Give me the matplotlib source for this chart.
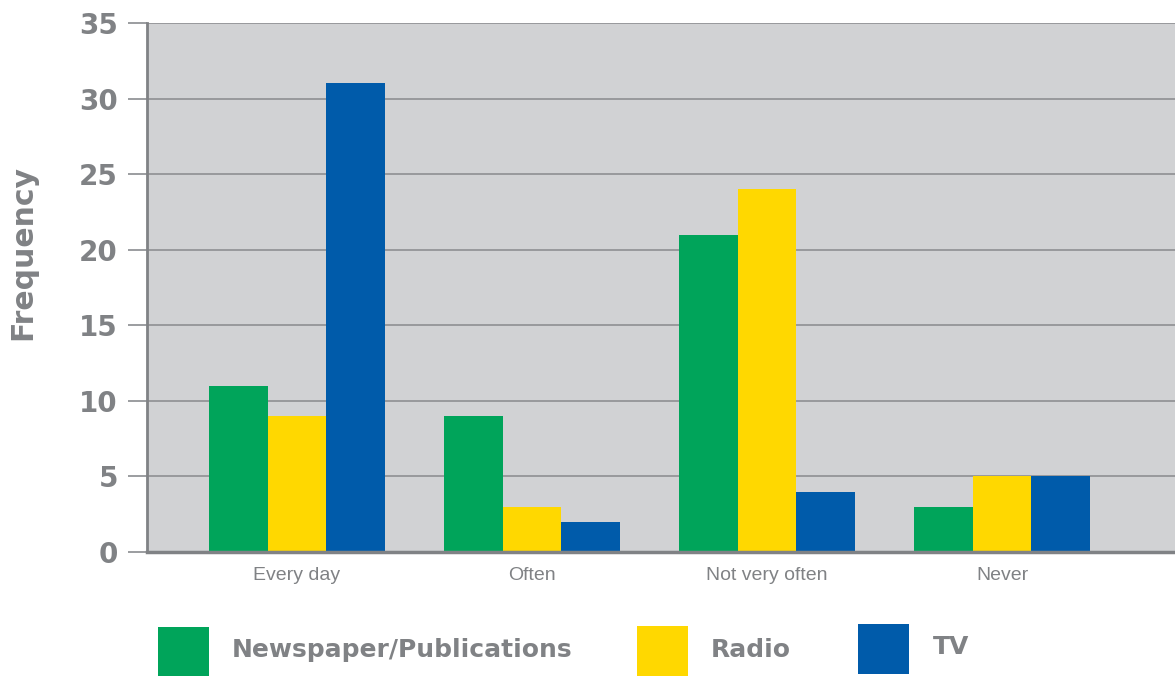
import matplotlib
matplotlib.use('Agg')
import matplotlib.pyplot as plt
from matplotlib.patches import Rectangle
import numpy as np

categories = ["Every day", "Often", "Not very often", "Never"]
series_names = ["Newspaper/Publications", "Radio", "TV"]
newspaper = [11, 9, 21, 3]
radio = [9, 3, 24, 5]
tv = [31, 2, 4, 5]
yticks = [0, 5, 10, 15, 20, 25, 30, 35]

colors = ["#00A45A", "#FFD800", "#005BAA"]
GRAY = "#808285"
GRID = "#939598"
BG = "#D1D2D4"
HEAVY = ['DejaVu Sans']

plt.rcParams['font.family'] = ['Liberation Sans', 'DejaVu Sans']

fig = plt.figure(figsize=(11.75, 6.76), dpi=100)
ax = fig.add_axes([147 / 1175, 1 - 552 / 676, 1 - 147 / 1175, 529 / 676])
ax.set_facecolor(BG)

x = np.arange(len(categories))
width = 0.25
for i, (vals, c) in enumerate(zip([newspaper, radio, tv], colors)):
    ax.bar(x + (i - 1) * width, vals, width, color=c, zorder=3, linewidth=0)

ax.set_xlim(-0.638, 3.736)
ax.set_ylim(0, 35)
ax.set_yticks(yticks)
ax.set_yticklabels([str(v) for v in yticks], fontsize=20, fontweight='bold',
                   color=GRAY, family=HEAVY)
ax.set_xticks(x)
ax.set_xticklabels(categories, fontsize=14, color=GRAY)
ax.tick_params(axis='x', length=0, pad=11)
ax.tick_params(axis='y', length=14, width=1.3, color=GRID, pad=7)
ax.yaxis.grid(True, color=GRID, linewidth=1.3, zorder=1)
ax.set_axisbelow(True)

for s in ['top', 'right']:
    ax.spines[s].set_visible(False)
ax.spines['left'].set_color(GRAY)
ax.spines['left'].set_linewidth(2)
ax.spines['bottom'].set_color(GRAY)
ax.spines['bottom'].set_linewidth(2.5)
ax.spines['bottom'].set_zorder(4)

fig.text(23 / 1175, 1 - 252 / 676, "Frequency", rotation=90, ha='center', va='center',
         fontsize=21.5, fontweight='bold', color=GRAY, family=HEAVY)

# legend drawn by hand to match the spacing
leg_boxes = [(158, 627), (637, 626), (858, 624)]
leg_text_x = [232, 711, 933]
leg_text_y = [650, 650, 647]
for (bx, by), tx, ty, name, c in zip(leg_boxes, leg_text_x, leg_text_y, series_names, colors):
    fig.patches.append(Rectangle((bx / 1175, 1 - (by + 50) / 676), 51 / 1175, 50 / 676,
                                 transform=fig.transFigure, color=c, linewidth=0))
    fig.text(tx / 1175, 1 - ty / 676, name, ha='left', va='center',
             fontsize=18, fontweight='bold', color=GRAY, family=HEAVY)

fig.savefig("out.png", dpi=100)
